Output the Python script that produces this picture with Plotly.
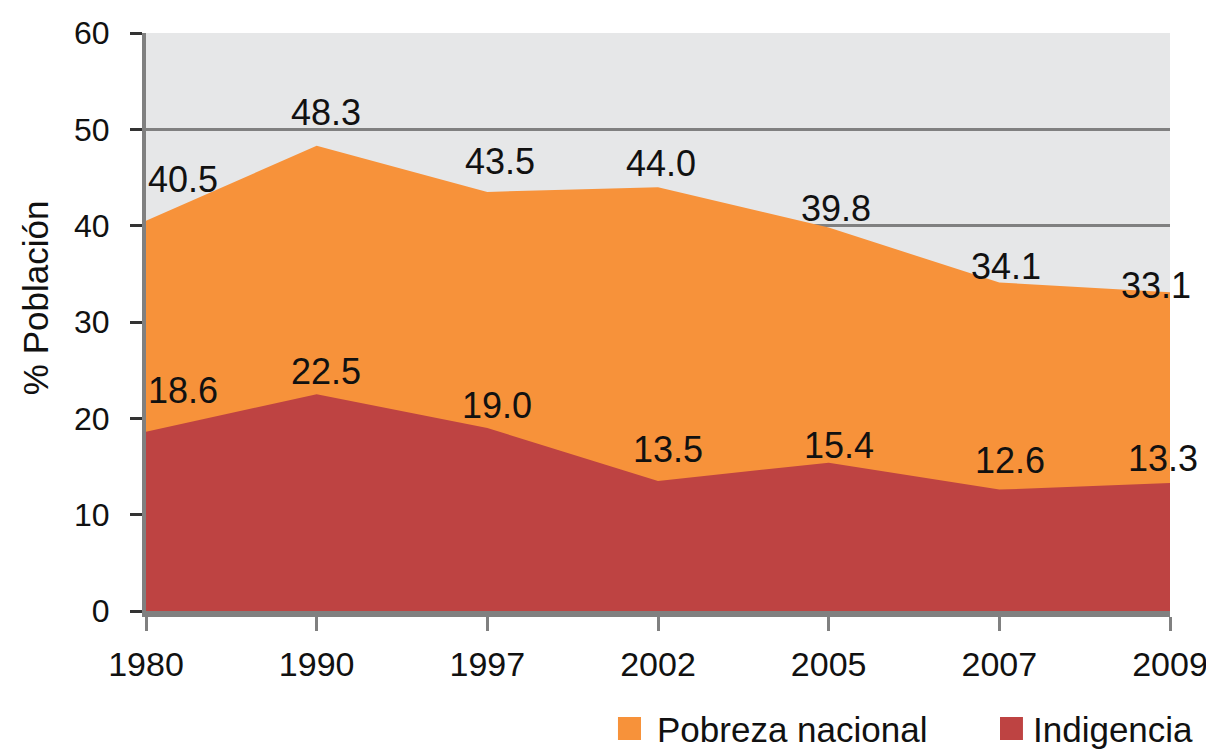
import plotly.graph_objects as go

years = ["1980", "1990", "1997", "2002", "2005", "2007", "2009"]
pobreza = [40.5, 48.3, 43.5, 44.0, 39.8, 34.1, 33.1]
indigencia = [18.6, 22.5, 19.0, 13.5, 15.4, 12.6, 13.3]
y_ticks = [0, 10, 20, 30, 40, 50, 60]
legend_names = ["Pobreza nacional", "Indigencia"]

# label offsets (pixels) relative to each point
pob_dx = [37, 9, 13, 3, 7, 7, -14]
pob_dy = [41, 33, 30, 24, 19, 16, 7]
ind_dx = [37, 9, 10, 10, 10, 11, -7]
ind_dy = [41, 23, 22, 31, 17, 29, 24]

ORANGE = "#f7923a"
RED = "#be4342"
GRID = "#808080"
TXT = "#111111"
FONT = "Liberation Sans, Arial, sans-serif"

fig = go.Figure()
fig.add_trace(go.Scatter(x=years, y=pobreza, mode="lines", fill="tozeroy",
                         fillcolor=ORANGE, line=dict(width=0, color=ORANGE),
                         name=legend_names[0], showlegend=False, hoverinfo="skip"))
fig.add_trace(go.Scatter(x=years, y=indigencia, mode="lines", fill="tozeroy",
                         fillcolor=RED, line=dict(width=0, color=RED),
                         name=legend_names[1], showlegend=False, hoverinfo="skip"))

annotations = []
for i, (v, dx, dy) in enumerate(zip(pobreza, pob_dx, pob_dy)):
    annotations.append(dict(x=i, y=v, xref="x", yref="y", text=f"{v:.1f}", showarrow=False,
                            xshift=dx, yshift=dy, xanchor="center", yanchor="middle",
                            font=dict(family=FONT, size=36, color=TXT)))
for i, (v, dx, dy) in enumerate(zip(indigencia, ind_dx, ind_dy)):
    annotations.append(dict(x=i, y=v, xref="x", yref="y", text=f"{v:.1f}", showarrow=False,
                            xshift=dx, yshift=dy, xanchor="center", yanchor="middle",
                            font=dict(family=FONT, size=36, color=TXT)))
annotations.append(dict(text="% Población", textangle=-90, xref="paper", yref="paper",
                        x=-0.1084, y=0.543, xanchor="center", yanchor="middle",
                        showarrow=False, font=dict(family=FONT, size=35, color=TXT)))

# manual legend (squares + labels) below the plot, right side
leg_sq_x = [(0.4609, 0.4834), (0.8340, 0.8564)]
leg_txt_x = [0.4971, 0.8643]
leg_colors = [ORANGE, RED]
shapes = []
for (x0, x1), tx, col, nm in zip(leg_sq_x, leg_txt_x, leg_colors, legend_names):
    shapes.append(dict(type="rect", xref="paper", yref="paper", x0=x0, x1=x1,
                       y0=-0.2232, y1=-0.1834, fillcolor=col, line=dict(width=0)))
    annotations.append(dict(text=nm, xref="paper", yref="paper", x=tx, y=-0.2042,
                            xanchor="left", yanchor="middle", showarrow=False,
                            font=dict(family=FONT, size=35, color=TXT)))

fig.update_layout(
    width=1206, height=744,
    margin=dict(l=138, r=44, t=25, b=141),
    paper_bgcolor="white",
    plot_bgcolor="#e6e7e8",
    font=dict(family=FONT, color=TXT),
    annotations=annotations,
    shapes=shapes,
    showlegend=False,
    xaxis=dict(type="category", range=[0, 6], showgrid=False, automargin=False,
               showline=True, linecolor=GRID, linewidth=6,
               ticks="outside", ticklen=14, tickwidth=3, tickcolor=GRID,
               tickfont=dict(family=FONT, size=34, color=TXT),
               ticklabelstandoff=4, zeroline=False),
    yaxis=dict(range=[0, 60], tickvals=y_ticks, showgrid=True, gridcolor=GRID,
               gridwidth=3, showline=True, linecolor=GRID, linewidth=4, automargin=False,
               ticks="outside", ticklen=12, tickwidth=3, tickcolor="#333333",
               tickfont=dict(family=FONT, size=32, color=TXT),
               ticklabelstandoff=14, zeroline=False),
)

fig.write_html("out.html")
